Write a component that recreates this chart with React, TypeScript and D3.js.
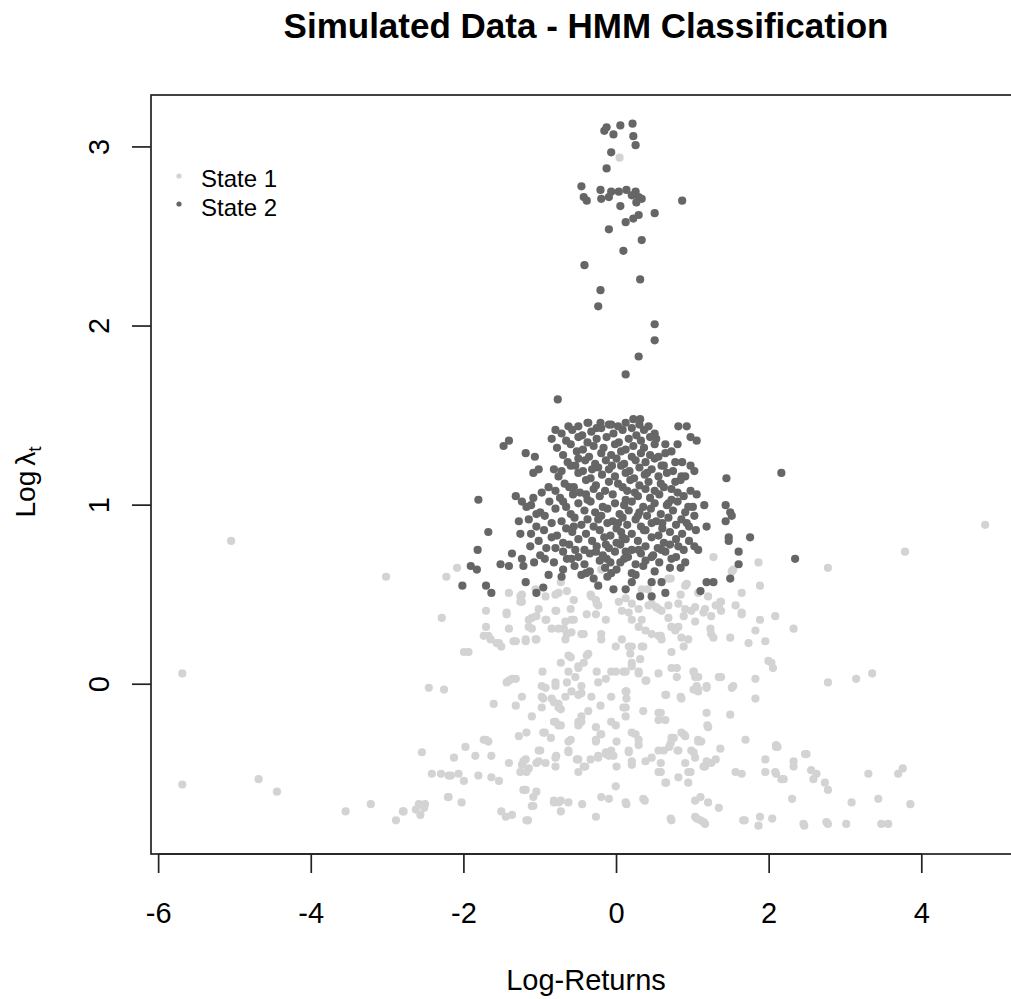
import React from "react";
import * as d3 from "d3";

// ---------- data (Log-Returns, Log lambda_t) ----------
const titleText = "Simulated Data - HMM Classification";
const xLabel = "Log-Returns";
const xTicks = [-6, -4, -2, 0, 2, 4];
const yTicks = [0, 1, 2, 3];
const legendLabels = ["State 1", "State 2"];

// State 1 (light) points
const state1Outer: [number, number][] = [
  [-5.69, 0.06], [-5.69, -0.56], [-5.05, 0.8], [-4.69, -0.53], [-4.45, -0.6], [-3.55, -0.71], [-3.22, -0.67],
  [-3.02, 0.6], [-2.89, -0.76], [-2.79, -0.71], [-2.59, -0.67], [-2.52, -0.69], [-2.55, -0.38], [-2.46, -0.02],
  [-2.29, 0.37], [-2.26, -0.03], [-2.23, 0.6], [-2.09, 0.65], [4.83, 0.89], [3.78, 0.74], [3.35, 0.06], [3.14, 0.03],
  [2.77, 0.01], [2.77, 0.65], [3.3, -0.5], [3.69, -0.5], [3.75, -0.47], [3.85, -0.67], [3.43, -0.64], [3.08, -0.66],
  [3.01, -0.78], [2.77, -0.78], [3.47, -0.78], [3.56, -0.78], [2.77, -0.59], [2.58, -0.53], [2.49, -0.39],
  [2.32, -0.46], [2.09, -0.35], [2.32, 0.31], [1.99, 0.13], [2.45, -0.78], [0.04, 2.94],
];
const state1Upper: [number, number][] = [
  [-1.71, 0.41], [-1.71, 0.32], [-1.74, 0.27], [-1.65, 0.25], [-1.54, 0.23], [-1.51, 0.21], [-1.44, 0.4], [-1.41, 0.51],
  [-1.24, 0.5], [-1.24, 0.46], [-1.06, 0.53], [-1.41, 0.31], [-1.35, 0.24], [-1.19, 0.24], [-2.0, 0.18], [-1.94, 0.18],
  [-1.15, 0.36], [-1.05, 0.38], [-1.11, 0.31], [-0.93, 0.36], [-1.05, 0.25], [-0.8, 0.41], [-0.76, 0.51], [-0.73, 0.57],
  [-0.6, 0.42], [-0.59, 0.36], [-0.85, 0.31], [-0.76, 0.31], [-0.65, 0.28], [-0.67, 0.25], [-0.59, 0.29], [-0.43, 0.28],
  [-0.39, 0.39], [-0.27, 0.47], [-0.24, 0.44], [-0.34, 0.5], [-0.2, 0.28], [-0.2, 0.25], [-0.14, 0.36], [0.03, 0.46],
  [0.07, 0.41], [0.16, 0.4], [0.2, 0.36], [0.33, 0.36], [0.29, 0.32], [0.38, 0.3], [0.42, 0.44], [0.52, 0.43],
  [0.59, 0.41], [0.68, 0.37], [0.72, 0.32], [0.77, 0.3], [0.58, 0.27], [0.88, 0.38], [0.98, 0.41], [1.03, 0.35],
  [1.14, 0.4], [1.24, 0.38], [1.34, 0.44], [1.37, 0.46], [1.23, 0.31], [1.24, 0.28], [0.85, 0.26], [0.94, 0.25],
  [0.88, 0.21], [1.49, 0.26], [1.64, 0.39], [1.56, 0.44], [1.73, 0.23], [1.82, 0.3], [1.88, 0.36], [1.95, 0.24],
  [2.08, 0.38], [1.88, 0.55], [1.86, 0.68], [1.64, 0.51], [1.51, 0.63], [1.27, 0.71], [0.9, 0.55], [0.84, 0.5],
  [0.71, 0.59], [2.03, 0.12], [2.05, 0.09], [0.72, 0.18], [0.35, 0.21], [0.16, 0.21], [0.18, 0.17], [-0.01, 0.21],
  [0.31, 0.14], [0.2, 0.12], [-0.37, 0.17], [-0.43, 0.12], [-0.5, 0.09], [-0.6, 0.15], [-0.73, 0.12], [-0.97, 0.07],
  [-0.26, 0.07], [-0.07, 0.07], [0.09, 0.07], [0.29, 0.06], [0.38, 0.02], [0.55, 0.06], [0.72, 0.09], [0.79, 0.04],
  [1.01, 0.07], [1.03, 0.04], [1.37, 0.04], [1.82, 0.03],
  [-1.26, 0.49], [-1.26, 0.46], [-1.44, 0.39], [-1.68, 0.27], [-1.57, 0.23], [-1.32, 0.24], [-1.19, 0.25],
  [-1.06, 0.25], [-1.15, 0.32], [-1.11, 0.37], [-1.02, 0.42], [-0.92, 0.36], [-0.79, 0.41], [-0.67, 0.35],
  [-0.56, 0.36], [-0.93, 0.49], [-0.8, 0.5], [-0.65, 0.52], [-0.56, 0.47], [-0.33, 0.49], [-0.26, 0.45],
  [-0.27, 0.39], [-0.46, 0.28], [-0.69, 0.31], [-0.63, 0.16], [-0.5, 0.1], [-0.39, 0.16], [-0.63, 0.07],
  [-0.54, 0.04], [-0.14, 0.03], [-1.41, 0.02], [-1.32, 0.03], [-0.8, 0.01], [-0.98, -0.01], [-0.01, 0.07],
  [-0.2, 0.64],
  [1.53, 0.64], [0.68, 0.59], [0.92, 0.56], [0.33, 0.53], [0.41, 0.53], [1.07, 0.51], [1.2, 0.49], [1.36, 0.46],
  [0.12, 0.48], [0.2, 0.45], [0.29, 0.42], [0.46, 0.45], [0.55, 0.42], [0.68, 0.44], [0.81, 0.45], [0.9, 0.42],
  [1.03, 0.43], [1.16, 0.42], [1.3, 0.44], [1.37, 0.41], [1.64, 0.4], [1.27, 0.26], [0.59, 0.25], [0.72, 0.32],
  [0.81, 0.32], [0.46, 0.28], [0.55, 0.27], [0.33, 0.21], [0.2, 0.21], [0.07, 0.25], [0.2, 0.1], [0.12, 0.07],
  [0.29, 0.07], [0.39, 0.02], [0.79, 0.09], [1.01, 0.07], [1.07, 0.04], [1.34, 0.04],
];
const state1Lower: [number, number][] = [
  [1.82, -0.08], [1.49, -0.17], [1.18, -0.16], [1.07, -0.03], [1.51, -0.02], [0.84, -0.07], [0.64, -0.06],
  [0.35, -0.15], [0.58, -0.16], [0.12, -0.04], [0.13, -0.08], [-0.07, -0.07], [-0.24, 0.01], [-0.33, -0.07],
  [-0.46, -0.01], [-0.5, -0.06], [-0.59, -0.04], [-0.65, 0.01], [-0.8, -0.01], [-0.85, -0.08], [-0.93, -0.02],
  [-0.96, -0.08], [-1.37, 0.03], [-1.44, 0.01], [-1.32, -0.12], [-1.24, -0.07], [-1.61, -0.11], [-0.76, -0.11],
  [-0.67, -0.07], [1.05, -0.01], [1.18, -0.01], [1.53, -0.01],
  [-0.82, -0.1], [-0.73, -0.14], [-0.98, -0.13], [-1.11, -0.18], [-0.82, -0.21], [-0.73, -0.23], [-1.28, -0.29],
  [-1.18, -0.27], [-0.96, -0.27], [-0.86, -0.3], [-0.6, -0.31], [-0.63, -0.32], [-0.5, -0.21], [-0.46, -0.18],
  [-0.37, -0.15], [-0.46, -0.05], [-0.27, -0.24], [-0.21, -0.12], [-0.07, -0.21], [-0.01, -0.23], [0.12, -0.13],
  [0.12, -0.18], [0.55, -0.16], [0.64, -0.2], [0.85, -0.08], [1.2, -0.24], [1.69, -0.31], [1.18, -0.02],
  [1.01, -0.03], [-2.42, -0.5], [-2.3, -0.5], [-2.17, -0.51], [-2.07, -0.5], [-2.0, -0.54], [-2.13, -0.41],
  [-1.98, -0.35], [-1.85, -0.4], [-1.81, -0.51], [-1.64, -0.52], [-1.54, -0.54], [-1.64, -0.4], [-1.74, -0.31],
  [-1.68, -0.32], [-1.41, -0.44], [-1.24, -0.45], [-1.19, -0.42], [-1.15, -0.47], [-1.05, -0.44], [-0.93, -0.44],
  [-1.0, -0.37], [-0.8, -0.46], [-0.79, -0.4], [-0.63, -0.38], [-0.5, -0.42], [-0.5, -0.49], [-0.41, -0.46],
  [-0.34, -0.42], [-0.24, -0.4], [-0.14, -0.39], [-0.07, -0.37], [-0.1, -0.4], [0.0, -0.32], [0.0, -0.46],
  [-0.27, -0.31], [-0.2, -0.28], [0.16, -0.38], [0.2, -0.45], [0.29, -0.34], [0.25, -0.28], [0.38, -0.43],
  [0.46, -0.41], [0.55, -0.37], [0.62, -0.37], [0.58, -0.44], [0.58, -0.49], [0.64, -0.55], [0.69, -0.35],
  [0.72, -0.3], [0.8, -0.37], [0.88, -0.28], [0.81, -0.52], [0.94, -0.55], [0.97, -0.49], [0.9, -0.44],
  [1.01, -0.38], [1.07, -0.32], [1.11, -0.32], [1.16, -0.46], [1.24, -0.44], [1.36, -0.36], [1.3, -0.42],
  [1.56, -0.49], [1.64, -0.5], [1.95, -0.42], [1.95, -0.49], [2.09, -0.34], [2.09, -0.5], [2.19, -0.53],
  [2.32, -0.43], [2.47, -0.39], [2.55, -0.48], [2.62, -0.5], [2.73, -0.55], [2.3, -0.64], [2.46, -0.79],
  [2.04, -0.75], [1.86, -0.79], [1.88, -0.74], [1.68, -0.76], [1.34, -0.69], [1.2, -0.66], [1.14, -0.77],
  [1.05, -0.75], [1.03, -0.65], [1.1, -0.63], [0.72, -0.76], [0.37, -0.65], [0.13, -0.67], [-0.01, -0.57],
  [-0.1, -0.64], [-0.2, -0.63], [-0.27, -0.74], [-0.45, -0.67], [-0.63, -0.66], [-0.76, -0.66], [-0.82, -0.66],
  [-0.73, -0.71], [-1.11, -0.68], [-1.09, -0.63], [-1.05, -0.6], [-1.19, -0.59], [-1.16, -0.76], [-1.45, -0.74],
  [-1.37, -0.73], [-1.51, -0.71], [-2.03, -0.66], [-2.21, -0.63], [-2.51, -0.67], [-2.63, -0.7], [-2.57, -0.73],
  [-2.8, -0.71], [2.75, -0.77],
  [-0.98, -0.07], [-0.76, -0.13], [-0.8, -0.21], [-0.76, -0.23], [-0.94, -0.27], [-0.63, -0.37], [-0.46, -0.21],
  [-0.5, -0.23], [-0.21, -0.28], [-0.27, -0.32], [-0.04, -0.4], [-0.14, -0.38], [-0.24, -0.41], [-0.52, -0.42],
  [-0.43, -0.46], [-1.02, -0.37], [-1.02, -0.43], [-0.8, -0.41], [-1.22, -0.43], [-1.18, -0.49], [-1.26, -0.49],
  [-1.71, -0.31], [-2.2, -0.51], [-1.22, -0.59], [-1.09, -0.68], [-0.82, -0.65], [-0.73, -0.65], [-1.18, -0.76],
  [-2.2, -0.63],
  [0.13, -0.04], [0.65, -0.06], [1.07, -0.04], [0.09, -0.13], [0.55, -0.2], [1.19, -0.23], [2.11, -0.35],
  [0.2, -0.27], [0.29, -0.31], [0.16, -0.37], [0.75, -0.3], [0.85, -0.27], [0.9, -0.29], [1.07, -0.31],
  [0.71, -0.33], [0.81, -0.37], [0.98, -0.37], [1.03, -0.41], [1.18, -0.43], [1.14, -0.46], [0.2, -0.43],
  [0.55, -0.49], [0.65, -0.55], [0.94, -0.49], [2.08, -0.49], [2.16, -0.53], [0.12, -0.66], [0.35, -0.64],
  [0.71, -0.75], [1.03, -0.74], [1.1, -0.76], [1.16, -0.78], [1.66, -0.76],
];

// State 2 (dark) points
const state2Spike: [number, number][] = [
  [-0.13, 3.11], [-0.16, 3.09], [0.05, 3.12], [0.21, 3.13], [-0.04, 3.07], [0.22, 3.06], [0.25, 3.01], [-0.07, 2.97],
  [-0.13, 2.88], [-0.46, 2.78], [-0.43, 2.72], [-0.39, 2.7], [-0.21, 2.76], [-0.2, 2.71], [-0.07, 2.75], [0.03, 2.75],
  [0.13, 2.76], [0.25, 2.75], [0.29, 2.72], [0.33, 2.71], [0.26, 2.69], [0.2, 2.73], [-0.1, 2.72], [0.05, 2.67],
  [0.86, 2.7], [0.5, 2.63], [0.29, 2.62], [0.22, 2.6], [0.12, 2.58], [-0.1, 2.54], [0.33, 2.48], [0.09, 2.42],
  [-0.42, 2.34], [0.31, 2.26], [-0.21, 2.2], [-0.24, 2.11], [0.5, 2.01], [0.5, 1.92], [0.29, 1.83], [0.12, 1.73],
  [-0.77, 1.59],
];
const state2Edge: [number, number][] = [
  [-1.41, 1.36], [-1.48, 1.33], [-1.19, 1.29], [-1.07, 1.27], [-1.02, 1.2], [-1.09, 1.18], [-1.81, 1.03],
  [-1.32, 1.05], [-1.24, 1.02], [-1.18, 0.99], [-1.09, 1.04], [-1.68, 0.85], [-1.28, 0.91], [-1.26, 0.84],
  [-1.05, 0.95], [-0.98, 1.07], [-0.89, 1.1], [-0.8, 1.42], [-0.63, 1.44], [-0.85, 1.37], [-0.72, 1.19],
  [-0.56, 1.1], [-0.41, 1.25], [-0.54, 1.22], [-0.37, 1.46], [-0.21, 1.46], [-0.07, 1.45],
  [0.22, 1.48], [0.31, 1.48], [0.81, 1.44], [0.92, 1.44], [0.97, 1.38], [1.05, 1.36], [0.52, 1.37], [0.64, 1.34],
  [0.8, 1.34], [0.64, 1.29], [0.55, 1.27], [0.59, 1.22], [0.77, 1.24], [0.97, 1.22], [1.02, 1.19], [2.16, 1.18],
  [1.44, 1.15], [0.85, 1.16], [0.77, 1.13], [0.72, 1.09], [0.97, 1.08], [1.05, 1.06], [1.15, 1.0], [1.43, 1.0],
  [1.49, 0.96], [1.51, 0.94], [1.43, 0.91], [0.94, 0.99], [1.18, 0.88], [1.47, 0.82], [1.75, 0.82], [0.92, 0.9],
  [0.68, 1.01],
  [-1.82, 0.75], [-1.91, 0.66], [-1.83, 0.64], [-2.02, 0.55], [-1.71, 0.55], [-1.64, 0.51], [-1.52, 0.67],
  [-1.41, 0.66], [-1.37, 0.73], [-1.24, 0.7], [-1.22, 0.66], [-1.19, 0.57], [-1.05, 0.51], [-0.96, 0.54],
  [-0.94, 0.7], [-0.82, 0.68], [-0.89, 0.61], [-0.8, 0.76], [-1.13, 0.77], [-0.59, 0.7], [-0.54, 0.75],
  [-0.46, 0.61], [-0.3, 0.59], [-0.24, 0.55], [-0.07, 0.62], [-0.04, 0.53], [-0.13, 0.7], [-0.27, 0.74],
  [0.12, 0.74], [0.29, 0.75], [0.46, 0.71], [0.59, 0.75], [0.81, 0.77], [0.9, 0.68], [0.84, 0.65], [1.07, 0.75],
  [1.47, 0.8], [1.6, 0.74], [1.6, 0.67], [2.34, 0.7], [1.49, 0.59], [1.18, 0.57], [1.27, 0.57], [1.1, 0.52],
  [0.59, 0.57], [0.46, 0.57], [0.46, 0.49], [0.31, 0.49], [0.64, 0.51], [0.2, 0.57], [0.2, 0.62], [0.12, 0.53],
  [0.05, 0.68],
];
// dense core of state 2
const state2Core: [number, number][] = [
  [-0.5, 1.44], [-0.38, 1.46], [-0.26, 1.43], [-0.1, 1.45], [0.02, 1.44], [0.12, 1.46], [0.2, 1.43], [0.3, 1.45], [0.42, 1.44],
  [-0.72, 1.4], [-0.58, 1.42], [-0.45, 1.39], [-0.33, 1.41], [-0.2, 1.43], [-0.04, 1.4], [0.08, 1.42], [0.26, 1.39], [0.36, 1.42], [0.5, 1.4],
  [-0.66, 1.36], [-0.5, 1.38], [-0.38, 1.35], [-0.26, 1.37], [-0.13, 1.38], [0.03, 1.35], [0.16, 1.37], [0.32, 1.36], [0.44, 1.38],
  [-0.78, 1.32], [-0.6, 1.34], [-0.44, 1.31], [-0.3, 1.33], [-0.17, 1.32], [-0.02, 1.34], [0.12, 1.31], [0.22, 1.33], [0.36, 1.32], [0.5, 1.34],
  [-0.7, 1.28], [-0.52, 1.3], [-0.36, 1.27], [-0.2, 1.29], [-0.07, 1.28], [0.06, 1.3], [0.2, 1.27], [0.32, 1.29], [0.44, 1.28], [0.72, 1.3],
  [-0.64, 1.24], [-0.5, 1.26], [-0.28, 1.23], [-0.14, 1.25], [0.0, 1.26], [0.1, 1.23], [0.25, 1.25], [0.38, 1.24], [0.5, 1.26], [0.86, 1.24],
  [-0.82, 1.2], [-0.6, 1.22], [-0.44, 1.19], [-0.24, 1.21], [-0.1, 1.2], [0.06, 1.22], [0.17, 1.19], [0.3, 1.21], [0.46, 1.2], [0.62, 1.22], [0.74, 1.19],
  [-0.76, 1.16], [-0.5, 1.18], [-0.34, 1.15], [-0.19, 1.17], [-0.02, 1.16], [0.12, 1.18], [0.23, 1.15], [0.37, 1.17], [0.55, 1.16], [0.66, 1.18], [0.9, 1.16],
  [-0.68, 1.12], [-0.4, 1.14], [-0.27, 1.11], [-0.1, 1.13], [0.02, 1.12], [0.18, 1.14], [0.3, 1.11], [0.42, 1.13], [0.58, 1.12], [0.84, 1.14],
  [-0.8, 1.08], [-0.62, 1.1], [-0.48, 1.07], [-0.3, 1.09], [-0.15, 1.08], [0.08, 1.1], [0.24, 1.07], [0.38, 1.09], [0.5, 1.08], [0.62, 1.1], [0.8, 1.07],
  [-0.74, 1.04], [-0.57, 1.06], [-0.38, 1.03], [-0.22, 1.05], [-0.05, 1.06], [0.12, 1.03], [0.28, 1.05], [0.44, 1.04], [0.56, 1.06], [0.72, 1.03], [0.88, 1.05],
  [-1.12, 1.0], [-0.88, 1.02], [-0.66, 0.99], [-0.5, 1.01], [-0.34, 1.02], [-0.18, 0.99], [-0.02, 1.01], [0.1, 1.0], [0.2, 1.02], [0.35, 0.99], [0.5, 1.01], [0.66, 1.0], [0.8, 1.02], [1.0, 0.99],
  [-1.0, 0.96], [-0.8, 0.98], [-0.6, 0.95], [-0.42, 0.97], [-0.28, 0.96], [-0.12, 0.98], [0.04, 0.95], [0.16, 0.97], [0.3, 0.96], [0.45, 0.98], [0.58, 0.95], [0.74, 0.97], [0.9, 0.96],
  [-1.15, 0.92], [-0.94, 0.94], [-0.72, 0.91], [-0.55, 0.93], [-0.38, 0.92], [-0.2, 0.94], [-0.05, 0.91], [0.08, 0.93], [0.25, 0.92], [0.4, 0.94], [0.52, 0.91], [0.68, 0.93], [0.85, 0.92], [1.02, 0.94],
  [-1.05, 0.88], [-0.85, 0.9], [-0.66, 0.87], [-0.46, 0.89], [-0.3, 0.88], [-0.12, 0.9], [0.0, 0.87], [0.14, 0.89], [0.32, 0.88], [0.46, 0.9], [0.6, 0.87], [0.78, 0.89], [0.95, 0.88],
  [-1.12, 0.84], [-0.95, 0.86], [-0.78, 0.83], [-0.58, 0.85], [-0.4, 0.84], [-0.22, 0.86], [-0.08, 0.83], [0.06, 0.85], [0.2, 0.84], [0.38, 0.86], [0.55, 0.83], [0.7, 0.85], [0.86, 0.84], [1.04, 0.86],
  [-1.02, 0.8], [-0.85, 0.82], [-0.7, 0.79], [-0.5, 0.81], [-0.32, 0.8], [-0.16, 0.82], [0.0, 0.79], [0.12, 0.81], [0.28, 0.8], [0.46, 0.82], [0.62, 0.79], [0.78, 0.81], [0.95, 0.8],
  [-0.92, 0.76], [-0.62, 0.78], [-0.42, 0.75], [-0.26, 0.77], [-0.1, 0.76], [0.05, 0.78], [0.2, 0.75], [0.38, 0.77], [0.54, 0.76], [0.7, 0.78], [0.88, 0.75], [1.02, 0.77],
  [-1.0, 0.72], [-0.7, 0.74], [-0.5, 0.71], [-0.35, 0.73], [-0.18, 0.72], [-0.02, 0.74], [0.15, 0.71], [0.32, 0.73], [0.48, 0.72], [0.64, 0.74], [0.78, 0.71],
  [-1.08, 0.68], [-0.65, 0.7], [-0.42, 0.67], [-0.22, 0.69], [-0.08, 0.68], [0.1, 0.7], [0.25, 0.67], [0.38, 0.69], [0.56, 0.68], [0.72, 0.7],
  [-0.7, 0.64], [-0.55, 0.66], [-0.35, 0.63], [-0.15, 0.65], [0.0, 0.64], [0.35, 0.66], [0.5, 0.63], [0.7, 0.65],
  [-0.72, 0.6], [-0.4, 0.62], [-0.12, 0.6], [0.25, 0.61],
  [-0.06, 1.22], [0.14, 1.08], [-0.24, 0.92], [0.36, 0.86], [-0.14, 0.78], [-0.4, 1.06], [0.4, 1.18],
  [-0.56, 0.88], [0.02, 0.9], [0.28, 0.94], [-0.32, 1.2], [0.6, 0.9], [-0.7, 1.02], [0.08, 0.82],
];

const LIGHT = "#d3d3d3";
const DARK = "#666666";
const FONT = "'Liberation Sans', Arial, Helvetica, sans-serif";

export default function App() {
  const W = 1011;
  const H = 999;
  const left = 151, right = 1021, top = 95, bottom = 854;

  const x = d3.scaleLinear().domain([-6.1, 5.3]).range([left, right]);
  const y = d3.scaleLinear().domain([-0.948, 3.29]).range([bottom, top]);

  const state1 = [...state1Outer, ...state1Upper, ...state1Lower];
  const state2 = [...state2Spike, ...state2Edge, ...state2Core];

  const r = 4.1;
  const tickLen = 19;

  return (
    <svg
      width={W}
      height={H}
      style={{ position: "absolute", left: 0, top: 0, background: "#fff" }}
      fontFamily={FONT}
    >
      <rect x={0} y={0} width={W} height={H} fill="#fff" />
      <text x={(left + right) / 2} y={38} textAnchor="middle" fontSize={35} fontWeight="bold" fill="#000">
        {titleText}
      </text>

      {/* points */}
      <g>
        {state1.map(([a, b], i) => (
          <circle key={"a" + i} cx={x(a)} cy={y(b)} r={r} fill={LIGHT} />
        ))}
        {state2.map(([a, b], i) => (
          <circle key={"b" + i} cx={x(a)} cy={y(b)} r={r} fill={DARK} />
        ))}
      </g>

      {/* box */}
      <rect x={left} y={top} width={right - left} height={bottom - top} fill="none" stroke="#222" strokeWidth={1.7} />

      {/* x axis */}
      <g>
        <line x1={x(xTicks[0])} x2={x(xTicks[xTicks.length - 1])} y1={bottom} y2={bottom} stroke="#222" strokeWidth={1.7} />
        {xTicks.map((t) => (
          <g key={"xt" + t}>
            <line x1={x(t)} x2={x(t)} y1={bottom} y2={bottom + tickLen} stroke="#222" strokeWidth={1.7} />
            <text x={x(t)} y={923} textAnchor="middle" fontSize={29} fill="#000">
              {t}
            </text>
          </g>
        ))}
      </g>

      {/* y axis */}
      <g>
        {yTicks.map((t) => (
          <g key={"yt" + t}>
            <line x1={left - tickLen} x2={left} y1={y(t)} y2={y(t)} stroke="#222" strokeWidth={1.7} />
            <text
              transform={`translate(109,${y(t)}) rotate(-90)`}
              textAnchor="middle"
              fontSize={29}
              fill="#000"
            >
              {t}
            </text>
          </g>
        ))}
      </g>

      {/* axis labels */}
      <text x={(left + right) / 2} y={990} textAnchor="middle" fontSize={29} fill="#000">
        {xLabel}
      </text>
      <text transform={`translate(35,482) rotate(-90)`} textAnchor="middle" fontSize={28} fill="#000">
        Log<tspan dx={5}>λ</tspan><tspan fontSize={19} dy={6}>t</tspan>
      </text>

      {/* legend */}
      <g>
        <circle cx={179} cy={176} r={2.6} fill={LIGHT} />
        <circle cx={179} cy={204} r={2.6} fill={DARK} />
        <text x={201} y={187} fontSize={24} fill="#000">{legendLabels[0]}</text>
        <text x={201} y={215.5} fontSize={24} fill="#000">{legendLabels[1]}</text>
      </g>
    </svg>
  );
}
